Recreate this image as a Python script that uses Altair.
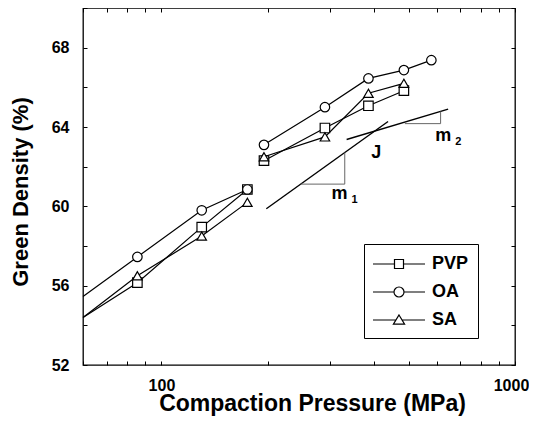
import altair as alt
import pandas as pd

series = ["PVP", "OA", "SA"]

# measured series (first point of each low-pressure curve is the fit-line start at the axis edge)
low_x = [60, 85.5, 130, 175]
low_marker = [False, True, True, True]
pvp_low_y = [54.4, 56.15, 58.95, 60.85]
oa_low_y = [55.45, 57.45, 59.8, 60.85]
sa_low_y = [54.4, 56.5, 58.5, 60.2]

pvp_high_x = [195, 290, 385, 485]
pvp_high_y = [62.3, 63.95, 65.07, 65.83]
oa_high_x = [195, 290, 385, 485, 580]
oa_high_y = [63.1, 65.0, 66.45, 66.87, 67.37]
sa_high_x = [195, 290, 385, 485]
sa_high_y = [62.5, 63.5, 65.7, 66.2]

# annotation lines (slopes m1, m2 and their triangles)
m1_x = [198, 437.5]
m1_y = [59.88, 64.28]
m2_x = [334, 647]
m2_y = [63.37, 64.9]
tri1_x = [247.7, 330, 330]
tri1_y = [61.12, 61.12, 62.71]
tri2_x = [488, 616, 616]
tri2_y = [64.17, 64.17, 64.78]

# annotation texts
label_text = ["J", "m", "m"]
label_x = [405, 319, 627]
label_y = [62.7, 60.6, 63.53]
sub_text = ["1", "2"]
sub_x = [319, 627]
sub_y = [60.6, 63.53]

x_ticks = [60, 70, 80, 90, 100, 200, 300, 400, 500, 600, 700, 800, 900, 1000]
y_ticks = [52, 54, 56, 58, 60, 62, 64, 66, 68, 70]

FONT = "Liberation Sans"

rows = []
def add(name, seg, xs, ys, marks):
    for xv, yv, mk in zip(xs, ys, marks):
        rows.append({"series": name, "group": name + seg, "x": xv, "y": yv, "marker": mk})

add("PVP", "low", low_x, pvp_low_y, low_marker)
add("OA", "low", low_x, oa_low_y, low_marker)
add("SA", "low", low_x, sa_low_y, low_marker)
add("PVP", "high", pvp_high_x, pvp_high_y, [True] * len(pvp_high_x))
add("OA", "high", oa_high_x, oa_high_y, [True] * len(oa_high_x))
add("SA", "high", sa_high_x, sa_high_y, [True] * len(sa_high_x))
df = pd.DataFrame(rows)
pts = df[df["marker"]]

fit_rows = []
for nm, xs, ys in [("m1", m1_x, m1_y), ("m2", m2_x, m2_y)]:
    for i, (xv, yv) in enumerate(zip(xs, ys)):
        fit_rows.append({"g": nm, "x": xv, "y": yv, "o": i})
fit_df = pd.DataFrame(fit_rows)

tri_rows = []
for nm, xs, ys in [("t1", tri1_x, tri1_y), ("t2", tri2_x, tri2_y)]:
    for i, (xv, yv) in enumerate(zip(xs, ys)):
        tri_rows.append({"g": nm, "x": xv, "y": yv, "o": i})
tri_df = pd.DataFrame(tri_rows)

lab_df = pd.DataFrame({"t": label_text, "x": label_x, "y": label_y})
sub_df = pd.DataFrame({"t": sub_text, "x": sub_x, "y": sub_y})

xscale = alt.Scale(type="log", domain=[60, 1000], nice=False)
yscale = alt.Scale(domain=[52, 70], nice=False)

x_axis_main = alt.Axis(
    orient="bottom", values=x_ticks, format="d",
    labelExpr="(datum.value == 100 || datum.value == 1000) ? datum.label : ''",
    tickSize=4, offset=-4, domain=False, grid=False, tickColor="black", tickWidth=1,
    labelFont=FONT, labelFontSize=16, labelFontWeight="bold", labelColor="black",
    labelPadding=12, labelFlush=False, labelOverlap=False,
    labelOffset={"condition": {"test": "datum.value == 1000", "value": -4}, "value": 0},
    title="Compaction Pressure (MPa)", titleFont=FONT, titleFontSize=23,
    titleFontWeight="bold", titleColor="black", titlePadding=-1, titleX=229,
)
y_axis_main = alt.Axis(
    orient="left", values=y_ticks,
    labelExpr="datum.value % 4 == 0 ? datum.label : ''",
    tickSize=4, offset=-4, domain=False, grid=False, tickColor="black", tickWidth=1,
    labelFont=FONT, labelFontSize=16, labelFontWeight="bold", labelColor="black",
    labelPadding=14, labelFlush=False, labelOverlap=False,
    title="Green Density (%)", titleFont=FONT, titleFontSize=22,
    titleFontWeight="bold", titleColor="black", titlePadding=19, titleY=183.5,
)
x_axis_top = alt.Axis(orient="top", values=x_ticks, labels=False, tickSize=4, offset=-4,
                      domain=False, grid=False, tickColor="black", title=None)
y_axis_right = alt.Axis(orient="right", values=y_ticks, labels=False, tickSize=4, offset=-4,
                        domain=False, grid=False, tickColor="black", title=None)

lines = alt.Chart(df).mark_line(color="black", strokeWidth=1.2).encode(
    x=alt.X("x:Q", scale=xscale, axis=x_axis_main),
    y=alt.Y("y:Q", scale=yscale, axis=y_axis_main),
    detail="group:N",
    order="x:Q",
)

fits = alt.Chart(fit_df).mark_line(color="black", strokeWidth=1.4).encode(
    x=alt.X("x:Q", scale=xscale, axis=x_axis_top),
    y=alt.Y("y:Q", scale=yscale, axis=y_axis_right),
    detail="g:N",
    order="o:Q",
)

tris = alt.Chart(tri_df).mark_line(color="#666666", strokeWidth=1).encode(
    x=alt.X("x:Q", scale=xscale, axis=None),
    y=alt.Y("y:Q", scale=yscale, axis=None),
    detail="g:N",
    order="o:Q",
)

points = alt.Chart(pts).mark_point(filled=True, fill="white", stroke="black",
                                   strokeWidth=1.2, size=90, opacity=1).encode(
    x=alt.X("x:Q", scale=xscale, axis=None),
    y=alt.Y("y:Q", scale=yscale, axis=None),
    shape=alt.Shape("series:N", scale=alt.Scale(domain=series,
                    range=["square", "circle", "triangle-up"]), legend=None),
)

# legend glyphs: line - marker - line (symbol size 400 -> 10 px per unit)
legend_paths = [
    "M-2.6,0H-0.45M0.45,0H2.6M-0.45,-0.45H0.45V0.45H-0.45Z",
    "M-2.6,0H-0.5M0.5,0H2.6M0.5,0A0.5,0.5,0,1,1,-0.5,0A0.5,0.5,0,1,1,0.5,0Z",
    "M-2.6,0H-0.3M0.3,0H2.6M0,-0.5L0.56,0.42H-0.56Z",
]
legend_layer = alt.Chart(pts).mark_point(opacity=0).encode(
    x=alt.X("x:Q", scale=xscale, axis=None),
    y=alt.Y("y:Q", scale=yscale, axis=None),
    shape=alt.Shape("series2:N", scale=alt.Scale(domain=series, range=legend_paths),
                    legend=alt.Legend(
                        title=None, orient="none", legendX=281, legendY=236,
                        symbolSize=400, symbolStrokeWidth=1.2, symbolStrokeColor="black",
                        symbolFillColor="white", symbolOpacity=1, symbolOffset=15,
                        labelFont=FONT, labelFontSize=18, labelFontWeight="bold",
                        labelColor="black", labelOffset=22, padding=9,
                        strokeColor="black", fillColor="white", rowPadding=8,
                    )),
).transform_calculate(series2="datum.series")

labels = alt.Chart(lab_df).mark_text(font=FONT, fontSize=18, fontWeight="bold",
                                     color="black", align="center", baseline="middle").encode(
    x=alt.X("x:Q", scale=xscale, axis=None),
    y=alt.Y("y:Q", scale=yscale, axis=None),
    text="t:N",
)
subs = alt.Chart(sub_df).mark_text(font=FONT, fontSize=11, fontWeight="bold", color="black",
                                   align="center", baseline="middle", dx=15, dy=6).encode(
    x=alt.X("x:Q", scale=xscale, axis=None),
    y=alt.Y("y:Q", scale=yscale, axis=None),
    text="t:N",
)

chart = alt.layer(lines, fits, tris, points, legend_layer, labels, subs).resolve_scale(
    shape="independent"
).resolve_axis(x="independent", y="independent").properties(
    width=432, height=357, autosize="none",
    padding={"left": 75, "top": 0, "right": 14, "bottom": 60},
    background="white",
).configure_view(stroke="black", strokeWidth=1.3)

chart.save("out.html", embed_options={"renderer": "svg", "actions": False})
